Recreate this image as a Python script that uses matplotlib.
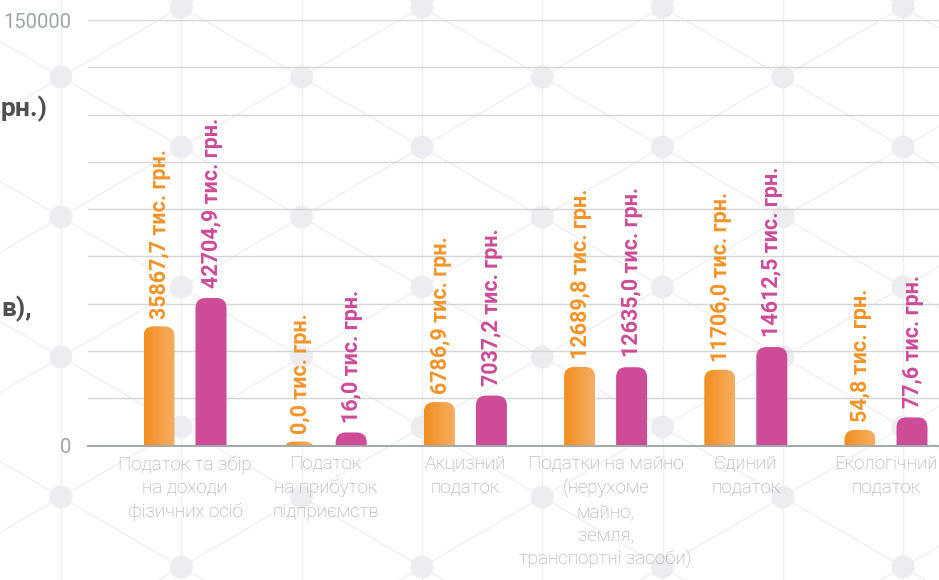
import numpy as np
import matplotlib
matplotlib.use("Agg")
import matplotlib.pyplot as plt
from matplotlib.patches import FancyBboxPatch, Circle
from matplotlib.colors import LinearSegmentedColormap

# ---------------- data ----------------
categories = [
    "Податок та збір\nна доходи\nфізичних осіб",
    "Податок\nна прибуток\nпідприємств",
    "Акцизний\nподаток",
    "Податки на майно\n(нерухоме\nмайно,\nземля,\nтранспортні засоби)",
    "Єдиний\nподаток",
    "Екологічний\nподаток",
]
# values printed above the bars (тис. грн.)
values_orange = [35867.7, 0.0, 6786.9, 12689.8, 11706.0, 54.8]
values_magenta = [42704.9, 16.0, 7037.2, 12635.0, 14612.5, 77.6]
# bar heights as drawn against the chart's y axis
drawn_orange = [42000, 1400, 15300, 27700, 26700, 5500]
drawn_magenta = [52000, 4600, 17600, 27600, 34700, 9900]
y_max = 150000
y_tick_labels = ["0", "150000"]

# ---------------- style ----------------
W, H = 939, 580
ORANGE_L = "#f28e20"
ORANGE_R = "#f6ae62"
MAGENTA = "#cd4b97"
GRID = "#d3d6d7"
AXIS = "#a3a9aa"
TXT = "#9ea6a7"
FONT = ["Roboto", "DejaVu Sans"]

plt.rcParams["font.family"] = FONT

fig = plt.figure(figsize=(W / 100, H / 100), dpi=100)
fig.patch.set_facecolor("white")

# background lattice decoration
bg = fig.add_axes([0, 0, 1, 1], zorder=0)
bg.set_xlim(0, W)
bg.set_ylim(H, 0)
bg.axis("off")
dx, dy = 120.3, 70.0
slope = dy / dx
lc = "#eeeef0"
for k in range(-1, 9):
    xc = 61 + dx * k
    bg.plot([xc, xc], [0, H], color=lc, lw=0.9, zorder=1)
for j in range(-8, 12):
    y0 = 77 + 2 * dy * j
    xs = np.array([-50, W + 50])
    bg.plot(xs, y0 + slope * (xs - 61), color=lc, lw=0.9, zorder=1)
    bg.plot(xs, y0 - slope * (xs - 61), color=lc, lw=0.9, zorder=1)
for k in range(-1, 9):
    xc = 61 + dx * k
    off = 77 if k % 2 == 0 else 7
    for j in range(-1, 6):
        bg.add_patch(Circle((xc, off + 2 * dy * j), 11.5, color="#ededf1", lw=0, zorder=2))

# title fragments visible at the left edge
bg.text(1, 116, "рн.)", ha="left", va="baseline", fontsize=19,
        fontweight="bold", color="#4f4f4f", family=FONT, zorder=3)
bg.text(1, 316, "в),", ha="left", va="baseline", fontsize=19,
        fontweight="bold", color="#4f4f4f", family=FONT, zorder=3)

# ---------------- main axes ----------------
left_px, right_px = 88, W
top_px, base_px = 20, 445.5
ax = fig.add_axes([left_px / W, (H - base_px) / H, (right_px - left_px) / W,
                   (base_px - top_px) / H], zorder=1)
ax.set_facecolor("none")

n = len(categories)
x = np.arange(n)
spacing_px = (886 - 185) / 5.0
xlim = (-(185 - left_px) / spacing_px, (n - 1) + (right_px - 886) / spacing_px)
ax.set_xlim(*xlim)
ax.set_ylim(0, y_max)

bar_w = 31 / spacing_px
off = 26 / spacing_px

ax.set_yticks(np.linspace(0, y_max, 10))
ax.set_yticklabels([y_tick_labels[0]] + [""] * 8 + [y_tick_labels[1]],
                   fontsize=14.5, color=TXT)
ax.grid(axis="y", color=GRID, lw=1.0, zorder=0)
ax.set_axisbelow(True)
for s in ["top", "right", "left"]:
    ax.spines[s].set_visible(False)
ax.spines["bottom"].set_color(AXIS)
ax.spines["bottom"].set_linewidth(1.4)
ax.spines["bottom"].set_zorder(5)
ax.tick_params(axis="y", length=0, pad=12)
ax.tick_params(axis="x", length=0, pad=7)
ax.set_xticks(x)
ax.set_xticklabels(categories, linespacing=1.38, va="top", fontweight="light",
                   fontsize=13.5, color=TXT)

# conversion px -> data units for rounded corners
xpp = (xlim[1] - xlim[0]) / (right_px - left_px)
ypp = y_max / (base_px - top_px)
radius_px = 10
rx = radius_px * xpp
aspect = ypp / xpp
cmap = LinearSegmentedColormap.from_list("og", [ORANGE_L, ORANGE_R])


def rounded_bars(heights, xpos, color=None, gradient=False):
    rects = ax.bar(xpos, heights, width=bar_w)
    tops = []
    for r in rects:
        x0, w, h = r.get_x(), r.get_width(), r.get_height()
        r.remove()
        ext = 2 * radius_px * ypp
        p = FancyBboxPatch((x0, -ext), w, h + ext,
                           boxstyle=f"round,pad=0,rounding_size={rx}",
                           mutation_aspect=aspect, lw=0,
                           fc=(color if not gradient else "none"), zorder=3)
        ax.add_patch(p)
        if gradient:
            grad = np.linspace(0, 1, 64).reshape(1, -1)
            im = ax.imshow(grad, extent=[x0, x0 + w, -ext, h], aspect="auto",
                           cmap=cmap, zorder=3, interpolation="bilinear")
            im.set_clip_path(p)
        tops.append((x0 + w / 2, h))
    return tops


tops_o = rounded_bars(drawn_orange, x - off, gradient=True)
tops_m = rounded_bars(drawn_magenta, x + off, color=MAGENTA)
ax.set_xlim(*xlim)
ax.set_ylim(0, y_max)


def fmt(v):
    return f"{v:.1f}".replace(".", ",") + " тис. грн."


for (cx, h), v in zip(tops_o, values_orange):
    ax.annotate(fmt(v), (cx, h), xytext=(1.0, 5.5), textcoords="offset points",
                rotation=90, ha="center", va="bottom", fontsize=15.5,
                fontweight="bold", color="#f39428", annotation_clip=False, zorder=4)
for (cx, h), v in zip(tops_m, values_magenta):
    ax.annotate(fmt(v), (cx, h), xytext=(0.5, 7.0), textcoords="offset points",
                rotation=90, ha="center", va="bottom", fontsize=15.5,
                fontweight="bold", color=MAGENTA, annotation_clip=False, zorder=4)

fig.savefig("out.png", dpi=100, facecolor="white")
